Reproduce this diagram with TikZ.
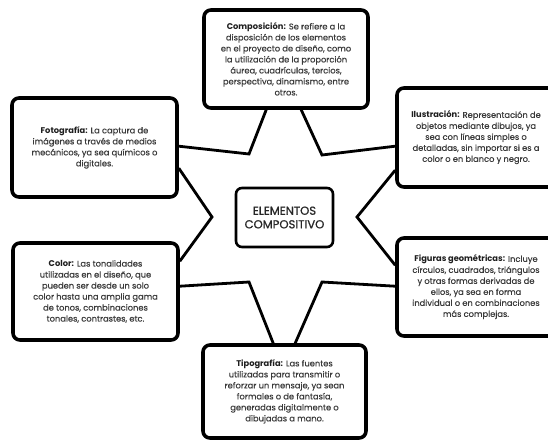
\documentclass[tikz,border=0pt]{standalone}
\usepackage{fontspec}
\setmainfont{Poppins}
\newfontfamily\bodyfont{Poppins}[FakeBold=0.35]
\newfontfamily\ctrfont{Poppins}[FakeBold=0.9]
\usetikzlibrary{calc}
\definecolor{txt}{HTML}{3A3A3A}
\definecolor{lbl}{HTML}{1E1E1E}
\newcommand{\lb}[1]{{\color{lbl}\fontspec{Poppins}\bfseries #1}}
\tikzset{
  infobox/.style={draw=black, line width=3.6pt, rounded corners=7pt, fill=white,
    align=center, text=txt, inner sep=0pt,
    font=\bodyfont\fontsize{8.3pt}{11pt}\selectfont},
  centerbox/.style={draw=black, line width=2.6pt, rounded corners=6pt, fill=white,
    align=center, text=black!85, inner sep=0pt,
    font=\ctrfont\fontsize{11.6pt}{13.6pt}\selectfont},
  starline/.style={draw=black, line width=2.8pt, line join=miter}
}
\begin{document}
\begin{tikzpicture}[x=1pt,y=-1pt]
\useasboundingbox (0,0) rectangle (548,441);
\clip (0,0) rectangle (548,441);
\fill[white] (0,0) rectangle (548,441);

\coordinate (i1) at (249,154);
\coordinate (i2) at (212,217);
\coordinate (i3) at (249,282);
\coordinate (i4) at (322,282);
\coordinate (i5) at (357,217);
\coordinate (i6) at (322,155);

\node[infobox, minimum width=164pt, minimum height=98pt] (comp) at (286,59)
 {\lb{Composición:} Se refiere a la\\disposición de los elementos\\en el proyecto de diseño, como\\la utilización de la proporción\\áurea, cuadrículas, tercios,\\perspectiva, dinamismo, entre\\otros.};
\node[infobox, minimum width=158pt, minimum height=99pt] (ilus) at (476,137.5)
 {\lb{Ilustración:} Representación de\\objetos mediante dibujos, ya\\sea con líneas simples o\\detalladas, sin importar si es a\\color o en blanco y negro.};
\node[infobox, minimum width=165pt, minimum height=99pt] (foto) at (94.5,147.5)
 {\lb{Fotografía:} La captura de\\imágenes a través de medios\\mecánicos, ya sea químicos o\\digitales.};
\node[infobox, minimum width=165pt, minimum height=97pt] (color) at (95.5,291.5)
 {\lb{Color:} Las tonalidades\\utilizadas en el diseño, que\\pueden ser desde un solo\\color hasta una amplia gama\\de tonos, combinaciones\\tonales, contrastes, etc.};
\node[infobox, minimum width=158pt, minimum height=98pt] (fig) at (476,287)
 {\lb{Figuras geométricas:} Incluye\\círculos, cuadrados, triángulos\\y otras formas derivadas de\\ellos, ya sea en forma\\individual o en combinaciones\\más complejas.};
\node[infobox, minimum width=163pt, minimum height=93pt] (tipo) at (284.5,391.5)
 {\lb{Tipografía:} Las fuentes\\utilizadas para transmitir o\\reforzar un mensaje, ya sean\\formales o de fantasía,\\generadas digitalmente o\\dibujadas a mano.};
\node[centerbox, minimum width=97pt, minimum height=59pt] (ctr) at (284.5,217.5)
 {ELEMENTOS\\COMPOSITIVO};

\draw[starline] ($(comp.south west)+(64,0)$) -- (i1) -- ($(foto.north east)+(0,50)$);
\draw[starline] ($(foto.north east)+(0,72)$) -- (i2) -- ($(color.north east)+(0,20)$);
\draw[starline] ($(color.north east)+(0,45)$) -- (i3) -- ($(tipo.north west)+(72,0)$);
\draw[starline] ($(tipo.north west)+(94,0)$) -- (i4) -- ($(fig.north west)+(0,50)$);
\draw[starline] ($(fig.north west)+(0,29)$) -- (i5) -- ($(ilus.north west)+(0,84)$);
\draw[starline] ($(ilus.north west)+(0,60)$) -- (i6) -- ($(comp.south west)+(99,0)$);
\end{tikzpicture}
\end{document}
